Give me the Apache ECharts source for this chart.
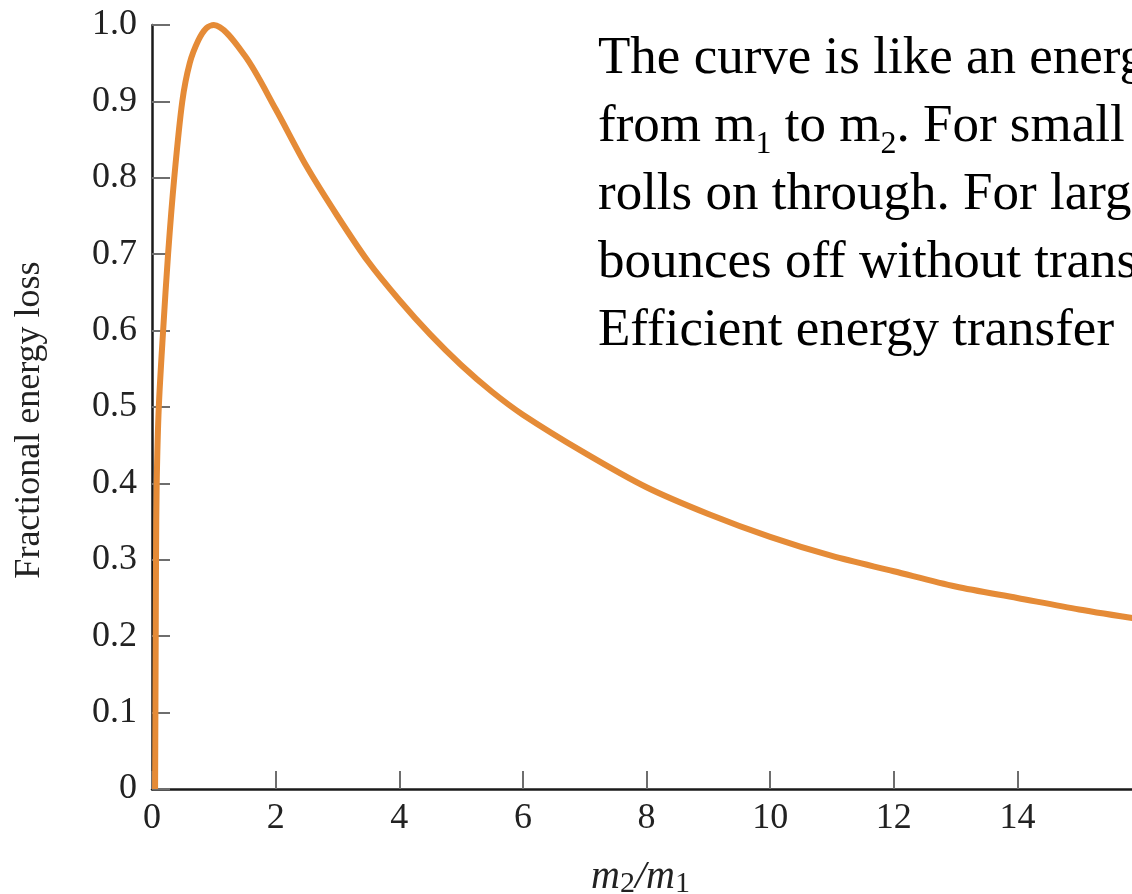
<!DOCTYPE html>
<html>
<head>
<meta charset="utf-8">
<script src="https://cdn.jsdelivr.net/npm/echarts@6/dist/echarts.min.js"></script>
<style>
  html, body { margin: 0; padding: 0; overflow: hidden; background: #fff; }
  #chart { width: 1160px; height: 894px; }
</style>
</head>
<body>
<div id="chart"></div>
<script>
// Mass ratio m2/m1 and fractional energy loss
const massRatio = [0.05, 0.055, 0.06, 0.065, 0.076, 0.11, 0.18, 0.26, 0.36, 0.49, 0.61, 0.75, 0.88, 1.0, 1.5, 2, 2.5, 3, 3.5, 4, 4.5, 5, 5.5, 6, 7, 8, 9, 10, 11, 12, 13, 14, 15, 16];
const energyLoss = [0, 0.1, 0.2, 0.3, 0.4, 0.5, 0.6, 0.7, 0.8, 0.9, 0.95, 0.98, 0.996, 1.0, 0.96, 0.89, 0.815, 0.75, 0.69, 0.64, 0.595, 0.555, 0.52, 0.49, 0.44, 0.395, 0.36, 0.33, 0.305, 0.285, 0.265, 0.25, 0.235, 0.222];
const xTicks = [0, 2, 4, 6, 8, 10, 12, 14, 16];
const yTicks = [0, 0.1, 0.2, 0.3, 0.4, 0.5, 0.6, 0.7, 0.8, 0.9, 1.0];
const yAxisTitle = 'Fractional energy loss';
const noteLines = [
  'The curve is like an energy',
  'from m{s|1} to m{s|2}. For small',
  'rolls on through. For large',
  'bounces off without transferring',
  'Efficient energy transfer'
];

const points = massRatio.map((x, i) => [x, energyLoss[i]]);
const serif = '"Liberation Serif", "DejaVu Serif", serif';

const chart = echarts.init(document.getElementById('chart'), null, { renderer: 'canvas' });
chart.setOption({
  animation: false,
  backgroundColor: '#ffffff',
  grid: { left: 152, right: 19, top: 25, bottom: 105, containLabel: false, outerBoundsMode: 'none' },
  xAxis: {
    type: 'value',
    min: 0, max: 16, interval: 2,
    name: '{it|m}{sub|2}{it|/m}{sub|1}',
    nameLocation: 'middle',
    nameGap: 66,
    nameTextStyle: {
      padding: [0, 12, 0, 0],
      rich: {
        it: { fontFamily: serif, fontStyle: 'italic', fontSize: 40, color: '#222', lineHeight: 44 },
        sub: { fontFamily: serif, fontSize: 30, color: '#222', verticalAlign: 'bottom', lineHeight: 44, padding: [18, 0, 0, 0] }
      }
    },
    axisLine: { show: true, onZero: false, lineStyle: { color: '#1a1a1a', width: 2.5 } },
    axisTick: { show: true, inside: true, length: 18, lineStyle: { color: '#6e6e6e', width: 2 } },
    axisLabel: {
      margin: 12, fontFamily: serif, fontSize: 36, color: '#222',
      formatter: v => xTicks.indexOf(v) >= 0 && v < 16 ? String(v) : ''
    },
    splitLine: { show: false }
  },
  yAxis: {
    type: 'value',
    min: 0, max: 1, interval: 0.1,
    name: yAxisTitle,
    nameLocation: 'middle',
    nameRotate: 90,
    nameGap: 104,
    nameTextStyle: { fontFamily: serif, fontSize: 36, color: '#222', padding: [0, 26, 0, 0] },
    axisLine: { show: true, onZero: false, lineStyle: { color: '#1a1a1a', width: 2.5 } },
    axisTick: { show: true, inside: true, length: 18, lineStyle: { color: '#6e6e6e', width: 2 } },
    axisLabel: {
      margin: 15, fontFamily: serif, fontSize: 36, color: '#222',
      formatter: v => {
        const t = yTicks.find(k => Math.abs(k - v) < 1e-9);
        if (t === undefined) return '';
        return t === 0 ? '0' : t.toFixed(1);
      }
    },
    splitLine: { show: false }
  },
  series: [{
    type: 'line',
    data: points,
    smooth: 0.3,
    showSymbol: false,
    symbol: 'none',
    lineStyle: { color: '#E58B37', width: 6 },
    z: 3
  }],
  graphic: [{
    type: 'text',
    left: 598,
    top: 25,
    z: 10,
    style: {
      text: noteLines.join('\n'),
      fontFamily: serif,
      fontSize: 53,
      lineHeight: 68,
      fill: '#000',
      rich: {
        s: { fontFamily: serif, fontSize: 32, lineHeight: 68, verticalAlign: 'bottom', fill: '#000' }
      }
    }
  }]
});
</script>
</body>
</html>
